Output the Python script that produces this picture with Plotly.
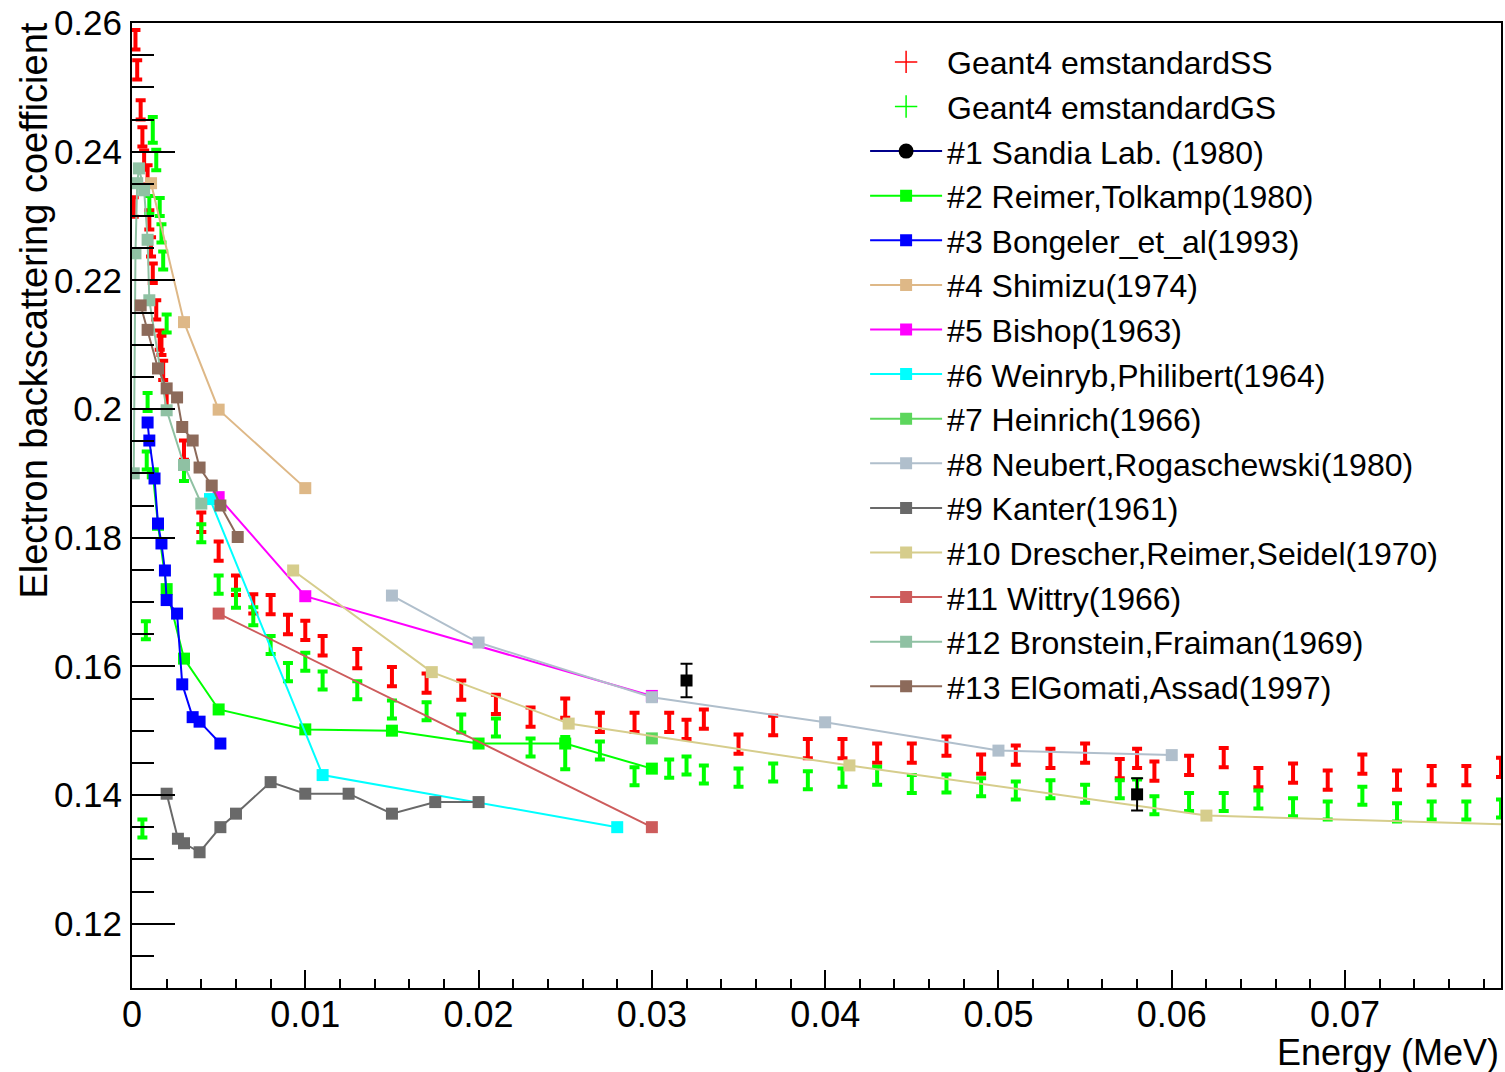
import plotly.graph_objects as go

# ---------------- data ----------------
ss_x = [0.0001, 0.0002, 0.0003, 0.0005, 0.0006, 0.0007, 0.0009, 0.0010, 0.0011, 0.0012,
        0.0014, 0.0016, 0.0017, 0.0018, 0.0020, 0.003, 0.004, 0.005, 0.006, 0.007,
        0.008, 0.009, 0.010, 0.011, 0.013, 0.015, 0.017, 0.019, 0.021, 0.023,
        0.025, 0.027, 0.029, 0.031, 0.032, 0.033, 0.035, 0.037, 0.039, 0.041,
        0.043, 0.045, 0.047, 0.049, 0.051, 0.053, 0.055, 0.057, 0.058, 0.059,
        0.061, 0.063, 0.065, 0.067, 0.069, 0.071, 0.073, 0.075, 0.077, 0.079]
ss_y = [0.2314, 0.2574, 0.2527, 0.2465, 0.2423, 0.2387, 0.2364, 0.2294, 0.2252, 0.2211,
        0.2154, 0.2107, 0.2099, 0.2060, 0.2018, 0.1936, 0.1824, 0.1779, 0.1726, 0.1697,
        0.1696, 0.1665, 0.1656, 0.1632, 0.1612, 0.1584, 0.1574, 0.1563, 0.1541, 0.1521,
        0.1535, 0.1513, 0.1513, 0.1513, 0.1502, 0.1518, 0.1479, 0.1508, 0.1472, 0.1472,
        0.1465, 0.1465, 0.1476, 0.1448, 0.1462, 0.1457, 0.1465, 0.1441, 0.1457, 0.1437,
        0.1446, 0.1458, 0.1427, 0.1434, 0.1423, 0.1448, 0.1423, 0.1430, 0.1430, 0.1443]
ss_err = [0.0015] * len(ss_x)

gs_x = [0.0006, 0.0008, 0.00085, 0.0009, 0.0010, 0.0012, 0.0014, 0.0016, 0.0017, 0.0018,
        0.0020, 0.003, 0.004, 0.005, 0.006, 0.007, 0.008, 0.009, 0.010, 0.011,
        0.013, 0.015, 0.017, 0.019, 0.021, 0.023, 0.025, 0.027, 0.029, 0.031,
        0.032, 0.033, 0.035, 0.037, 0.039, 0.041, 0.043, 0.045, 0.047, 0.049,
        0.051, 0.053, 0.055, 0.057, 0.058, 0.059, 0.061, 0.063, 0.065, 0.067,
        0.069, 0.071, 0.073, 0.075, 0.077, 0.079]
gs_y = [0.1348, 0.1656, 0.1920, 0.2011, 0.2317, 0.2434, 0.2387, 0.2314, 0.2273, 0.2231,
        0.2133, 0.1902, 0.1807, 0.1727, 0.1705, 0.1678, 0.1633, 0.1591, 0.1607, 0.1578,
        0.1563, 0.1533, 0.1530, 0.1511, 0.1505, 0.1474, 0.1465, 0.1469, 0.1429, 0.1441,
        0.1446, 0.1432, 0.1427, 0.1435, 0.1423, 0.1427, 0.1430, 0.1417, 0.1418, 0.1412,
        0.1407, 0.1409, 0.1402, 0.1409, 0.1410, 0.1384, 0.1389, 0.1389, 0.1393, 0.1381,
        0.1376, 0.1399, 0.1373, 0.1376, 0.1376, 0.1379]
gs_err = [0.0014, 0.0014, 0.0014, 0.0014, 0.0014, 0.0020, 0.0016, 0.0014, 0.0014, 0.0014,
          0.0014, 0.0014, 0.0014, 0.0014, 0.0014, 0.0014, 0.0014, 0.0014, 0.0014, 0.0014,
          0.0014, 0.0014, 0.0014, 0.0014, 0.0014, 0.0014, 0.0025, 0.0014, 0.0014, 0.0014,
          0.0014, 0.0014, 0.0014, 0.0014, 0.0014, 0.0014, 0.0014, 0.0014, 0.0014, 0.0014,
          0.0014, 0.0014, 0.0014, 0.0014, 0.0014, 0.0014, 0.0014, 0.0014, 0.0014, 0.0014,
          0.0014, 0.0014, 0.0014, 0.0014, 0.0014, 0.0014]

sandia_x = [0.032, 0.058]
sandia_y = [0.1578, 0.1401]
sandia_err = [0.0026, 0.0025]

reimer_x = [0.0012, 0.0015, 0.0020, 0.003, 0.005, 0.010, 0.015, 0.020, 0.025, 0.030]
reimer_y = [0.1900, 0.1820, 0.1720, 0.1612, 0.1533, 0.1502, 0.1500, 0.1480, 0.1480, 0.1441]

bongeler_x = [0.0009, 0.0010, 0.0013, 0.0015, 0.0017, 0.0019, 0.0020, 0.0026, 0.0029, 0.0035, 0.0039, 0.0051]
bongeler_y = [0.1979, 0.1951, 0.1892, 0.1822, 0.1791, 0.1749, 0.1703, 0.1682, 0.1572, 0.1521, 0.1514, 0.1480]

shimizu_x = [0.0011, 0.003, 0.005, 0.010]
shimizu_y = [0.2351, 0.2135, 0.1999, 0.1877]

bishop_x = [0.005, 0.010, 0.030]
bishop_y = [0.1863, 0.1709, 0.1554]

weinryb_x = [0.0045, 0.011, 0.028]
weinryb_y = [0.1860, 0.1431, 0.1350]

heinrich_x = [0.030]
heinrich_y = [0.1488]

neubert_x = [0.015, 0.020, 0.030, 0.040, 0.050, 0.060]
neubert_y = [0.1710, 0.1637, 0.1552, 0.1513, 0.1469, 0.1462]

kanter_x = [0.0020, 0.00265, 0.0030, 0.0039, 0.0051, 0.0060, 0.0080, 0.0100, 0.0125, 0.0150, 0.0175, 0.0200]
kanter_y = [0.1402, 0.1332, 0.1325, 0.1311, 0.1350, 0.1371, 0.1420, 0.1402, 0.1402, 0.1371, 0.1389, 0.1389]

drescher_x = [0.0093, 0.0173, 0.0252, 0.0414, 0.0620, 0.0850]
drescher_y = [0.1749, 0.1591, 0.1511, 0.1446, 0.1368, 0.1350]

wittry_x = [0.005, 0.030]
wittry_y = [0.1682, 0.1350]

bronstein_x = [0.0001, 0.0002, 0.0003, 0.0004, 0.0007, 0.0009, 0.0010, 0.0020, 0.0030, 0.0040]
bronstein_y = [0.1900, 0.2242, 0.2351, 0.2374, 0.2340, 0.2263, 0.2169, 0.1998, 0.1913, 0.1853]

elgomati_x = [0.0005, 0.0009, 0.0015, 0.0020, 0.0026, 0.0029, 0.0035, 0.0039, 0.0046, 0.0051, 0.0061]
elgomati_y = [0.2161, 0.2123, 0.2063, 0.2032, 0.2018, 0.1972, 0.1951, 0.1909, 0.1881, 0.1850, 0.1801]

x_tick_vals = [0, 0.01, 0.02, 0.03, 0.04, 0.05, 0.06, 0.07]
x_tick_text = ["0", "0.01", "0.02", "0.03", "0.04", "0.05", "0.06", "0.07"]
y_tick_vals = [0.12, 0.14, 0.16, 0.18, 0.20, 0.22, 0.24, 0.26]
y_tick_text = ["0.12", "0.14", "0.16", "0.18", "0.2", "0.22", "0.24", "0.26"]

experiments = [
    ("#2 Reimer,Tolkamp(1980)", reimer_x, reimer_y, "#00ff00"),
    ("#3 Bongeler_et_al(1993)", bongeler_x, bongeler_y, "#0000ff"),
    ("#4 Shimizu(1974)", shimizu_x, shimizu_y, "#deb887"),
    ("#5 Bishop(1963)", bishop_x, bishop_y, "#ff00ff"),
    ("#6 Weinryb,Philibert(1964)", weinryb_x, weinryb_y, "#00ffff"),
    ("#7 Heinrich(1966)", heinrich_x, heinrich_y, "#5cd65c"),
    ("#8 Neubert,Rogaschewski(1980)", neubert_x, neubert_y, "#b0bfcc"),
    ("#9 Kanter(1961)", kanter_x, kanter_y, "#696969"),
    ("#10 Drescher,Reimer,Seidel(1970)", drescher_x, drescher_y, "#d6cd8c"),
    ("#11 Wittry(1966)", wittry_x, wittry_y, "#cd5c5c"),
    ("#12 Bronstein,Fraiman(1969)", bronstein_x, bronstein_y, "#8fc1a3"),
    ("#13 ElGomati,Assad(1997)", elgomati_x, elgomati_y, "#8c6a5a"),
]

# ---------------- figure ----------------
fig = go.Figure()

# Geant4 simulations (error-bar only)
fig.add_trace(go.Scatter(
    x=ss_x, y=ss_y, mode="markers", showlegend=False,
    marker=dict(size=1, color="#ff0000"),
    error_y=dict(type="data", array=ss_err, color="#ff0000", thickness=4, width=5)))
fig.add_trace(go.Scatter(
    x=gs_x, y=gs_y, mode="markers", showlegend=False,
    marker=dict(size=1, color="#00ff00"),
    error_y=dict(type="data", array=gs_err, color="#00ff00", thickness=4, width=5)))

# legend-only entries for Geant4 and Sandia
fig.add_trace(go.Scatter(x=[None], y=[None], mode="markers", name="Geant4 emstandardSS",
                         marker=dict(symbol="cross-thin-open", size=20, color="#ff0000",
                                     line=dict(color="#ff0000", width=1.5))))
fig.add_trace(go.Scatter(x=[None], y=[None], mode="markers", name="Geant4 emstandardGS",
                         marker=dict(symbol="cross-thin-open", size=20, color="#00ff00",
                                     line=dict(color="#00ff00", width=1.5))))
fig.add_trace(go.Scatter(x=[None], y=[None], mode="lines+markers", name="#1 Sandia Lab. (1980)",
                         line=dict(color="#00008b", width=2),
                         marker=dict(symbol="circle", size=15, color="black")))

for name, xs, ys, col in experiments:
    fig.add_trace(go.Scatter(
        x=xs, y=ys, mode="lines+markers", name=name,
        line=dict(color=col, width=2),
        marker=dict(symbol="square", size=12, color=col)))

# Sandia data
fig.add_trace(go.Scatter(
    x=sandia_x, y=sandia_y, mode="markers", showlegend=False,
    marker=dict(symbol="square", size=12, color="black"),
    error_y=dict(type="data", array=sandia_err, color="black", thickness=2, width=6)))

font_family = "Liberation Sans, Arial, Helvetica, sans-serif"

fig.update_layout(
    width=1505, height=1072,
    margin=dict(l=132, r=2, t=23, b=84),
    paper_bgcolor="white", plot_bgcolor="white",
    font=dict(family=font_family, color="black"),
    showlegend=True,
    legend=dict(x=0.5355, y=0.988, xanchor="left", yanchor="top",
                bgcolor="rgba(0,0,0,0)", font=dict(size=32, family=font_family, color="black"),
                tracegroupgap=0, itemsizing="trace", itemwidth=72),
    xaxis=dict(range=[0, 0.0790], showgrid=False, zeroline=False,
               showline=True, linecolor="black", linewidth=2, mirror=True,
               tickmode="array", tickvals=x_tick_vals, ticktext=x_tick_text,
               ticks="inside", ticklen=18, tickwidth=1.5, tickcolor="black",
               tickfont=dict(size=36, family=font_family),
               ticklabelstandoff=-6,
               minor=dict(tickmode="linear", tick0=0, dtick=0.002, ticks="inside",
                          ticklen=9, tickwidth=1.5, tickcolor="black")),
    yaxis=dict(range=[0.11, 0.26], showgrid=False, zeroline=False,
               showline=True, linecolor="black", linewidth=2, mirror=True,
               tickmode="array", tickvals=y_tick_vals, ticktext=y_tick_text,
               ticks="inside", ticklen=43, tickwidth=2, tickcolor="black",
               tickfont=dict(size=35, family=font_family),
               ticklabelstandoff=1,
               minor=dict(tickmode="linear", tick0=0, dtick=0.005, ticks="inside",
                          ticklen=22, tickwidth=2, tickcolor="black")),
    annotations=[
        dict(text="Energy (MeV)", xref="paper", yref="paper", x=1.0, y=-0.067,
             xanchor="right", yanchor="middle", showarrow=False,
             font=dict(size=36, family=font_family, color="black")),
        dict(text="Electron backscattering coefficient", xref="paper", yref="paper",
             x=-0.0712, y=1.002, xanchor="center", yanchor="top", textangle=-90,
             showarrow=False, font=dict(size=38, family=font_family, color="black")),
    ],
)

fig.write_html("out.html")
